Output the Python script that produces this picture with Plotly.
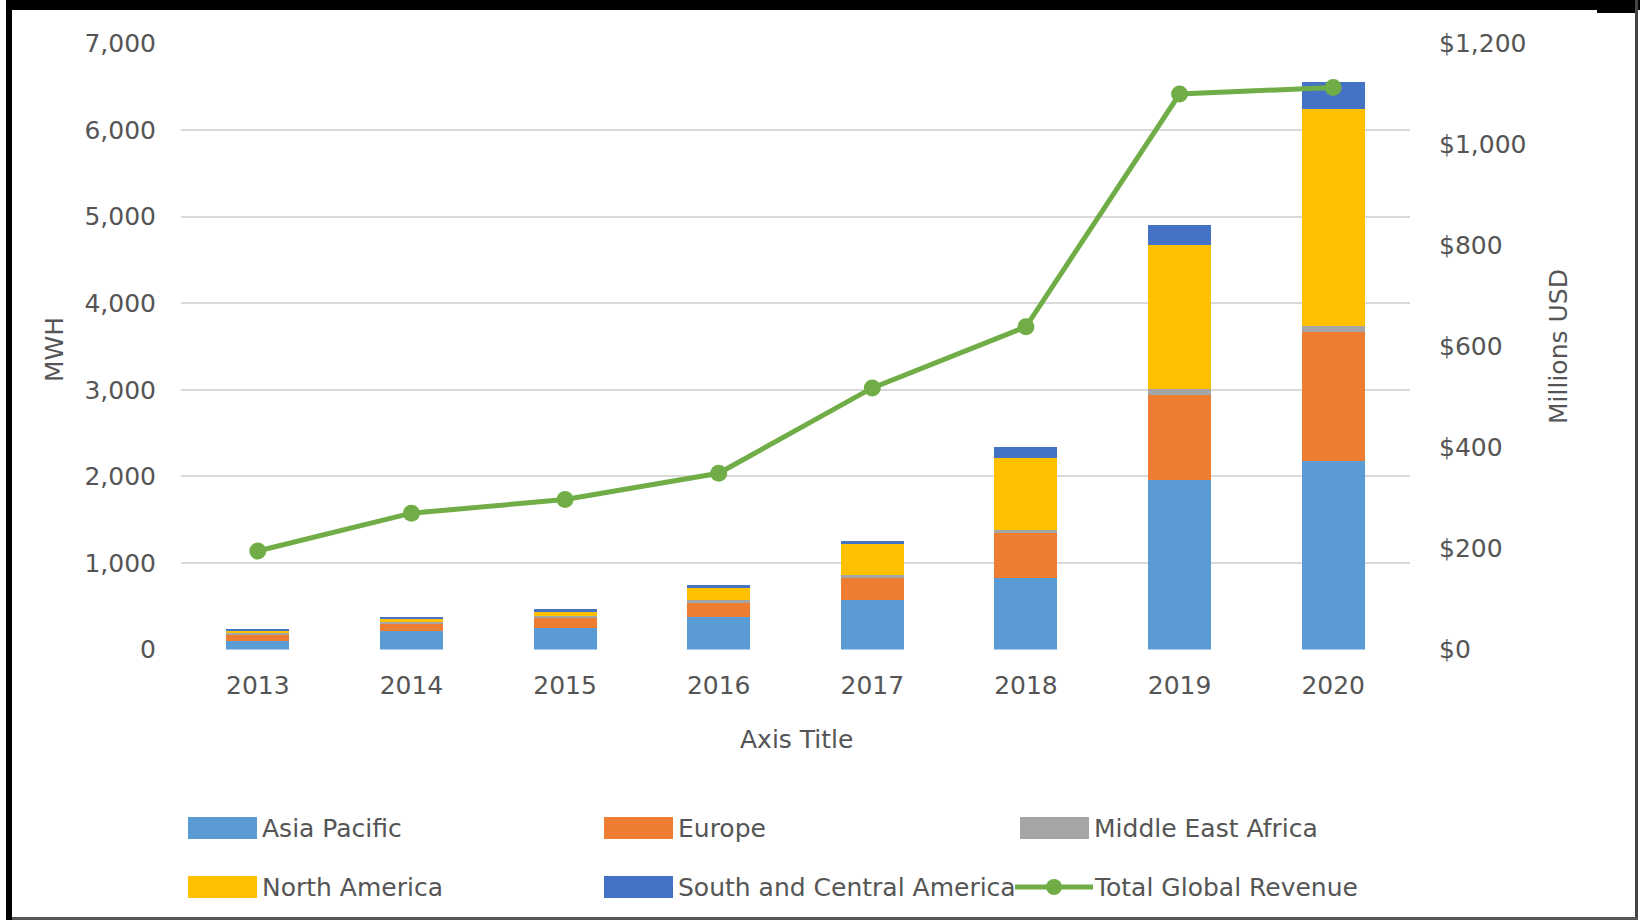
import plotly.graph_objects as go

years = ["2013", "2014", "2015", "2016", "2017", "2018", "2019", "2020"]
asia_pacific = [97, 212, 251, 371, 574, 826, 1953, 2175]
europe = [80, 95, 120, 170, 252, 531, 985, 1487]
middle_east_africa = [15, 10, 20, 35, 40, 20, 71, 80]
north_america = [30, 30, 45, 135, 356, 830, 1665, 2503]
south_central_america = [20, 25, 27, 34, 30, 128, 231, 315]
total_revenue = [195, 270, 297, 349, 518, 639, 1100, 1113]

series_names = ["Asia Pacific", "Europe", "Middle East Africa", "North America",
                "South and Central America", "Total Global Revenue"]
series_colors = ["#5B9BD5", "#ED7D31", "#A5A5A5", "#FFC000", "#4472C4", "#70AD47"]
bar_values = [asia_pacific, europe, middle_east_africa, north_america, south_central_america]

W, H = 1640, 920
FONT = "DejaVu Sans"
TXT = "#555555"
FS = 25

fig = go.Figure()
for name, vals, col in zip(series_names[:5], bar_values, series_colors[:5]):
    fig.add_trace(go.Bar(x=years, y=vals, name=name, marker=dict(color=col, line=dict(width=0)),
                         showlegend=False, yaxis="y"))
fig.add_trace(go.Scatter(x=years, y=total_revenue, name=series_names[5], mode="lines+markers",
                         line=dict(color=series_colors[5], width=5),
                         marker=dict(color=series_colors[5], size=17),
                         showlegend=False, yaxis="y2"))

x0, x1 = 181 / W, 1410 / W
y0, y1 = 1 - 649.5 / H, 1 - 43.5 / H

fig.update_layout(
    width=W, height=H,
    margin=dict(l=0, r=0, t=0, b=0),
    paper_bgcolor="white", plot_bgcolor="white",
    barmode="stack", bargap=0.59,
    font=dict(family=FONT, color=TXT, size=FS),
    xaxis=dict(domain=[x0, x1], showgrid=False, showline=False, ticks="",
               tickfont=dict(size=FS, color=TXT), automargin=False, ticklabelstandoff=18),
    yaxis=dict(domain=[y0, y1], range=[0, 7000], dtick=1000, tickformat=",",
               showgrid=True, gridcolor="#D9D9D9", gridwidth=2, zeroline=False,
               showline=False, ticks="", automargin=False, ticklabelstandoff=24,
               tickfont=dict(size=FS, color=TXT)),
    yaxis2=dict(overlaying="y", side="right", range=[0, 1200], dtick=200, tickformat=",",
                tickprefix="$", showgrid=False, zeroline=False, showline=False, ticks="",
                automargin=False, ticklabelstandoff=28, tickfont=dict(size=FS, color=TXT),
                anchor="x"),
    showlegend=False,
)

annotations = [
    dict(text="Axis Title", x=796 / W, y=1 - 739 / H, xref="paper", yref="paper",
         showarrow=False, font=dict(size=FS, color=TXT), xanchor="center", yanchor="middle"),
    dict(text="MWH", x=54 / W, y=1 - 350 / H, xref="paper", yref="paper", textangle=-90,
         showarrow=False, font=dict(size=FS, color=TXT), xanchor="center", yanchor="middle"),
    dict(text="Millions USD", x=1558 / W, y=1 - 347 / H, xref="paper", yref="paper", textangle=-90,
         showarrow=False, font=dict(size=FS, color=TXT), xanchor="center", yanchor="middle"),
]
shapes = []

# legend (two rows x three columns)
col_x = [188, 604, 1020]
row_y = [828, 887]
for i, (name, col) in enumerate(zip(series_names, series_colors)):
    r, c = divmod(i, 3)
    sx, sy = col_x[c], row_y[r]
    if i < 5:
        shapes.append(dict(type="rect", xref="paper", yref="paper",
                           x0=sx / W, x1=(sx + 69) / W, y0=1 - (sy + 11) / H, y1=1 - (sy - 11) / H,
                           fillcolor=col, line=dict(width=0)))
    else:
        shapes.append(dict(type="line", xref="paper", yref="paper",
                           x0=(sx - 5) / W, x1=(sx + 73) / W, y0=1 - sy / H, y1=1 - sy / H,
                           line=dict(color=col, width=5)))
        shapes.append(dict(type="circle", xref="paper", yref="paper",
                           x0=(sx + 26) / W, x1=(sx + 42) / W, y0=1 - (sy + 8) / H, y1=1 - (sy - 8) / H,
                           fillcolor=col, line=dict(width=0)))
    annotations.append(dict(text=name, x=(sx + 72) / W, y=1 - sy / H, xref="paper", yref="paper",
                            showarrow=False, xanchor="left", yanchor="middle",
                            font=dict(size=FS, color=TXT)))

# outer frame
shapes += [
    dict(type="rect", xref="paper", yref="paper", x0=6 / W, x1=12 / W, y0=0, y1=1,
         fillcolor="black", line=dict(width=0), layer="above"),
    dict(type="rect", xref="paper", yref="paper", x0=6 / W, x1=1, y0=1 - 10 / H, y1=1,
         fillcolor="black", line=dict(width=0), layer="above"),
    dict(type="rect", xref="paper", yref="paper", x0=1597 / W, x1=1638 / W, y0=1 - 13 / H, y1=1,
         fillcolor="black", line=dict(width=0), layer="above"),
    dict(type="rect", xref="paper", yref="paper", x0=1635 / W, x1=1638 / W, y0=0, y1=1,
         fillcolor="#444444", line=dict(width=0), layer="above"),
    dict(type="rect", xref="paper", yref="paper", x0=12 / W, x1=1638 / W, y0=0, y1=3 / H,
         fillcolor="#555555", line=dict(width=0), layer="above"),
]

fig.update_layout(annotations=annotations, shapes=shapes)
fig.write_html("out.html", config={"displayModeBar": False},
               post_script="document.body.style.margin='0';document.body.style.overflow='hidden';")
